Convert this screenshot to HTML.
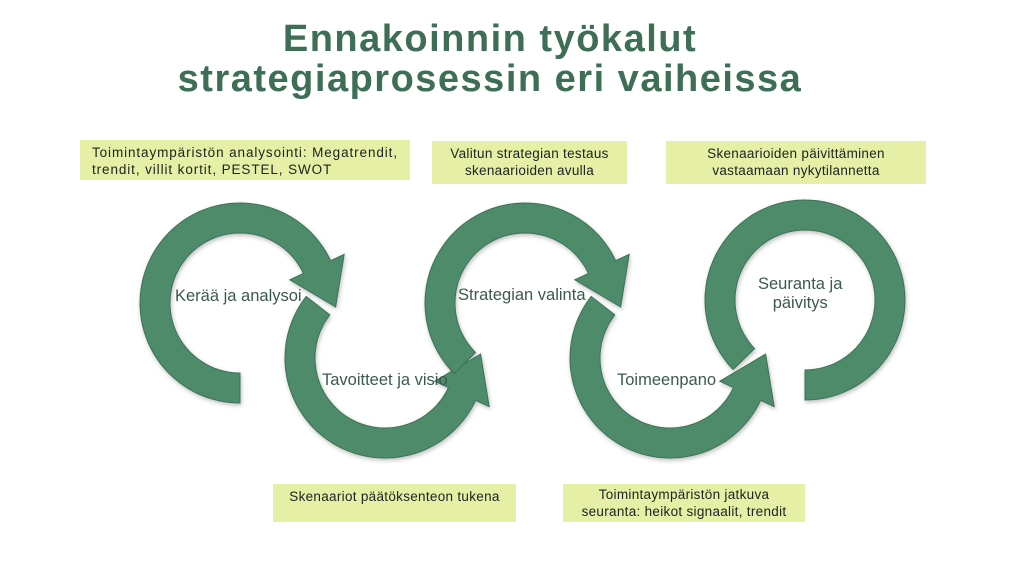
<!DOCTYPE html>
<html><head><meta charset="utf-8"><style>
html,body{margin:0;padding:0;background:#fff;}
#w{position:relative;width:1024px;height:576px;overflow:hidden;font-family:"Liberation Sans",sans-serif;}
.t{position:absolute;left:0;width:980px;text-align:center;color:#3e6e55;font-weight:bold;font-size:38px;letter-spacing:1.5px;}
.b{position:absolute;background:#e5f0a6;font-size:13.5px;line-height:17px;color:#222;box-sizing:border-box;letter-spacing:0.3px;}
.l{position:absolute;font-size:16.5px;color:#3c5a4b;white-space:nowrap;}
svg{position:absolute;left:0;top:0;}
</style></head><body><div id="w">
<div class="t" style="top:18px;">Ennakoinnin työkalut</div>
<div class="t" style="top:58px;">strategiaprosessin eri vaiheissa</div>
<div class="b" style="left:80px;top:140px;width:330px;height:40px;padding:4px 12px;letter-spacing:0.9px;">Toimintaympäristön analysointi: Megatrendit,<br>trendit, villit kortit, PESTEL, SWOT</div>
<div class="b" style="left:432px;top:141px;width:195px;height:43px;padding:4px 0;text-align:center;">Valitun strategian testaus<br>skenaarioiden avulla</div>
<div class="b" style="left:666px;top:141px;width:260px;height:43px;padding:4px 0;text-align:center;">Skenaarioiden päivittäminen<br>vastaamaan nykytilannetta</div>
<div class="b" style="left:273px;top:484px;width:243px;height:38px;padding:4px 0;text-align:center;">Skenaariot päätöksenteon tukena</div>
<div class="b" style="left:563px;top:484px;width:242px;height:38px;padding:2px 0;text-align:center;">Toimintaympäristön jatkuva<br>seuranta: heikot signaalit, trendit</div>
<svg id="s" width="1024" height="576" viewBox="0 0 1024 576">
<defs><filter id="sh" x="-10%" y="-10%" width="120%" height="120%"><feDropShadow dx="1" dy="2" stdDeviation="2" flood-color="#000" flood-opacity="0.25"/></filter></defs>
<g id="g" filter="url(#sh)" fill="#4e8b6a" stroke="#3c7256" stroke-width="1"></g>
</svg>
<div class="l" style="left:175px;top:287px;">Kerää ja analysoi</div>
<div class="l" style="left:322px;top:371px;">Tavoitteet ja visio</div>
<div class="l" style="left:458px;top:286px;">Strategian valinta</div>
<div class="l" style="left:617px;top:371px;">Toimeenpano</div>
<div class="l" style="left:758px;top:275px;text-align:center;">Seuranta ja<br>päivitys</div>
</div>
<script>
var g=document.getElementById('g');
function P(cx,cy,r,a){a=a*Math.PI/180;return [cx+r*Math.cos(a),cy+r*Math.sin(a)];}
function arc(cx,cy,a0,a1,head){
 var r=85,w=15,pts=[],n=80,i,a;
 for(i=0;i<=n;i++){a=a0+(a1-a0)*i/n;pts.push(P(cx,cy,r+w,a));}
 if(head){
  var dir=a1>a0?1:-1,ar=a1*Math.PI/180;
  var m=P(cx,cy,r,a1);
  var tx=dir>0?-Math.sin(ar):Math.sin(ar),ty=dir>0?Math.cos(ar):-Math.cos(ar);
  pts.push(P(cx,cy,r+30,a1));
  pts.push([m[0]+tx*44,m[1]+ty*44]);
  pts.push(P(cx,cy,r-30,a1));
 }
 for(i=n;i>=0;i--){a=a0+(a1-a0)*i/n;pts.push(P(cx,cy,r-w,a));}
 var p=document.createElementNS('http://www.w3.org/2000/svg','polygon');
 p.setAttribute('points',pts.map(function(q){return q[0].toFixed(1)+','+q[1].toFixed(1)}).join(' '));
 g.appendChild(p);
}
arc(240,303,90,335,true);
arc(385,358,218,25,true);
arc(525,303,135,335,true);
arc(670,358,218,25,true);
arc(805,300,136,450,false);
</script>
</body></html>
